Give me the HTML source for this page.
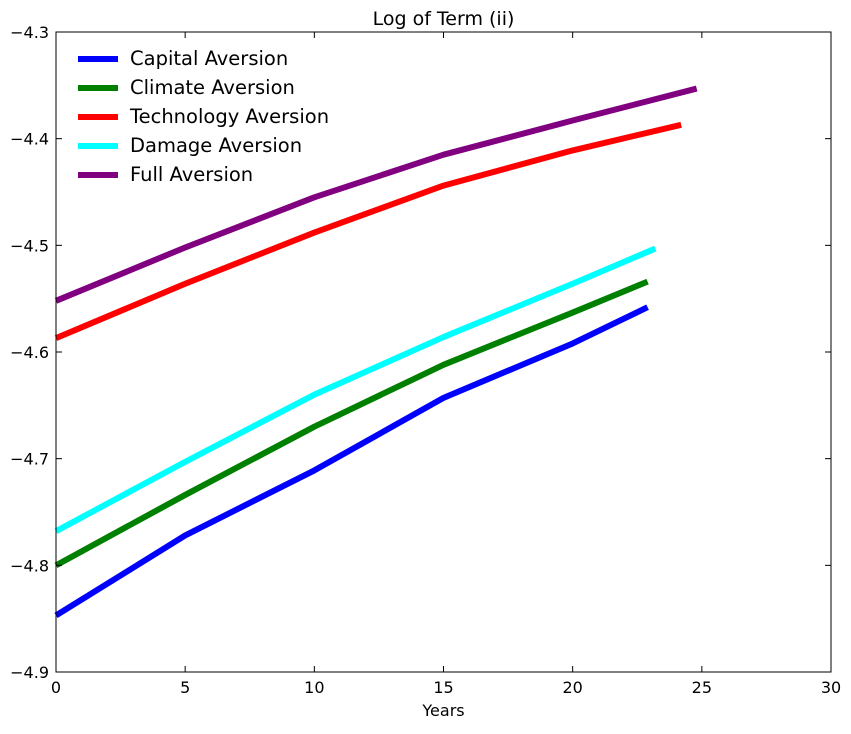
<!DOCTYPE html>
<html><head><meta charset="utf-8"><style>
body{margin:0;background:#fff;font-family:"DejaVu Sans",sans-serif;}
svg text{font-family:"DejaVu Sans",sans-serif;}
</style></head><body>
<svg id="chart" width="851" height="730"></svg>
<script>
const xTicks=[0,5,10,15,20,25,30];
const yTicks=[-4.9,-4.8,-4.7,-4.6,-4.5,-4.4,-4.3];
const seriesNames=["Capital Aversion","Climate Aversion","Technology Aversion","Damage Aversion","Full Aversion"];
const seriesColors=["#0000ff","#008000","#ff0000","#00ffff","#800080"];
const capitalX=[0,5,10,15,20,22.9];
const capitalY=[-4.847,-4.772,-4.711,-4.643,-4.592,-4.558];
const climateX=[0,5,10,15,20,22.9];
const climateY=[-4.800,-4.734,-4.670,-4.612,-4.563,-4.534];
const techX=[0,5,10,15,20,24.2];
const techY=[-4.587,-4.536,-4.488,-4.444,-4.411,-4.387];
const damageX=[0,5,10,15,20,23.2];
const damageY=[-4.768,-4.703,-4.640,-4.586,-4.536,-4.503];
const fullX=[0,5,10,15,20,24.8];
const fullY=[-4.552,-4.502,-4.455,-4.415,-4.383,-4.353];
const drawOrder=[[capitalX,capitalY,0],[climateX,climateY,1],[techX,techY,2],[damageX,damageY,3],[fullX,fullY,4]];

const L=56,R=831,T=32,B=672;
const sx=v=>L+(v-0)/(30-0)*(R-L);
const sy=v=>B-(v-(-4.9))/(0.6)*(B-T);
const svg=document.getElementById('chart');
const NS="http://www.w3.org/2000/svg";
function mk(tag,attrs,parent){const e=document.createElementNS(NS,tag);for(const k in attrs)e.setAttribute(k,attrs[k]);(parent||svg).appendChild(e);return e;}

drawOrder.forEach(([xs,ys,i])=>{
  const d=xs.map((x,j)=>(j?'L':'M')+sx(x)+','+sy(ys[j])).join(' ');
  const p=mk('path',{d:d,fill:'none',stroke:seriesColors[i],'stroke-width':6,'stroke-linejoin':'round'});
  
  
});

const frame=mk('rect',{x:L,y:T,width:R-L,height:B-T,fill:'none',stroke:'#000','stroke-width':1});



xTicks.forEach(t=>{
  const x=sx(t);
  mk('line',{x1:x,x2:x,y1:B,y2:B-6,stroke:'#000'});
  mk('line',{x1:x,x2:x,y1:T,y2:T+6,stroke:'#000'});
  const tx=mk('text',{x:x,y:B+21,'text-anchor':'middle','font-size':16});
  tx.textContent=t;
  
  
});
yTicks.forEach(t=>{
  const y=sy(t);
  mk('line',{x1:L,x2:L+6,y1:y,y2:y,stroke:'#000'});
  mk('line',{x1:R,x2:R-6,y1:y,y2:y,stroke:'#000'});
  const tx=mk('text',{x:L-7,y:y+6,'text-anchor':'end','font-size':16});
  tx.textContent='\u2212'+Math.abs(t).toFixed(1);
  
  
});

const title=mk('text',{x:(L+R)/2,y:25,'text-anchor':'middle','font-size':19});
title.textContent='Log of Term (ii)';


const xl=mk('text',{x:(L+R)/2,y:716,'text-anchor':'middle','font-size':16});
xl.textContent='Years';



seriesNames.forEach((n,i)=>{
  const y=59+i*29;
  const g=mk('g',{});
  
  
  mk('line',{x1:78,x2:118,y1:y,y2:y,stroke:seriesColors[i],'stroke-width':6},g);
  const t=mk('text',{x:130,y:y+6,'font-size':19.5},g);
  t.textContent=n;
});
</script>
</body></html>
